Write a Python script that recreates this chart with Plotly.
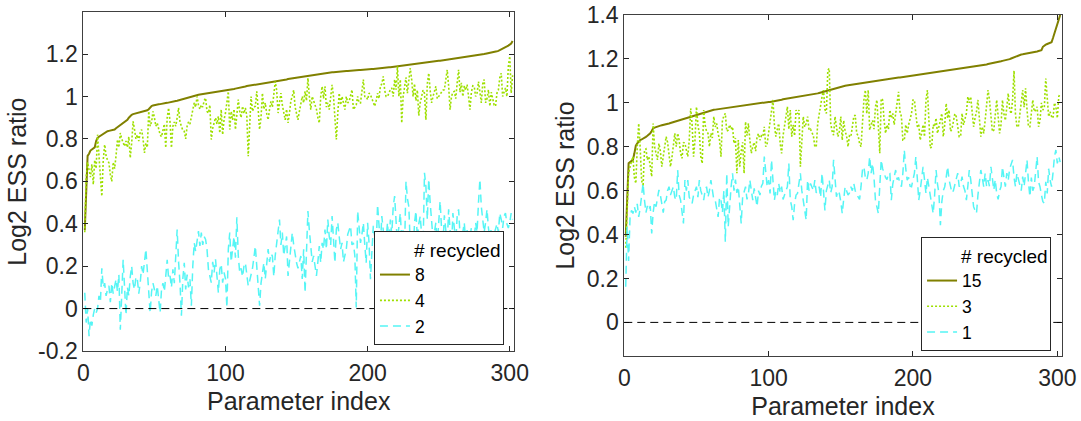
import plotly.graph_objects as go

# ---------------------------------------------------------------------------
# Log2 ESS ratio per parameter (parameters sorted by the largest setting)
# ---------------------------------------------------------------------------

# Left panel: recycled = 8, 4, 2
left_r8 = [
    0.37, 0.60, 0.72, 0.73, 0.745, 0.75, 0.755, 0.76, 0.79, 0.805,
    0.81, 0.815, 0.82, 0.825, 0.828, 0.832, 0.836, 0.838, 0.84, 0.842,
    0.843, 0.844, 0.85, 0.855, 0.86, 0.866, 0.872, 0.877, 0.882, 0.886,
    0.89, 0.90, 0.908, 0.914, 0.917, 0.919, 0.921, 0.923, 0.925, 0.926,
    0.927, 0.928, 0.93, 0.932, 0.935, 0.94, 0.948, 0.955, 0.958, 0.96,
    0.961, 0.962, 0.963, 0.964, 0.966, 0.967, 0.968, 0.969, 0.97, 0.972,
    0.973, 0.975, 0.976, 0.978, 0.979, 0.98, 0.982, 0.984, 0.986, 0.988,
    0.99, 0.993, 0.995, 0.997, 0.998, 0.999, 1.0, 1.002, 1.004, 1.006,
    1.008, 1.009, 1.01, 1.011, 1.012, 1.012, 1.013, 1.014, 1.015, 1.016,
    1.017, 1.018, 1.019, 1.021, 1.023, 1.024, 1.026, 1.027, 1.028, 1.029,
    1.03, 1.031, 1.032, 1.032, 1.034, 1.035, 1.037, 1.038, 1.04, 1.041,
    1.043, 1.044, 1.046, 1.047, 1.049, 1.05, 1.052, 1.054, 1.056, 1.057,
    1.058, 1.059, 1.06, 1.061, 1.062, 1.062, 1.063, 1.064, 1.065, 1.066,
    1.066, 1.067, 1.068, 1.068, 1.069, 1.07, 1.071, 1.072, 1.074, 1.076,
    1.077, 1.079, 1.08, 1.082, 1.083, 1.085, 1.086, 1.088, 1.089, 1.09,
    1.091, 1.092, 1.094, 1.095, 1.096, 1.097, 1.098, 1.099, 1.10, 1.101,
    1.102, 1.103, 1.104, 1.105, 1.106, 1.107, 1.108, 1.109, 1.11, 1.11,
    1.111, 1.112, 1.113, 1.113, 1.114, 1.114, 1.115, 1.115, 1.116, 1.116,
    1.117, 1.118, 1.118, 1.119, 1.12, 1.12, 1.121, 1.122, 1.122, 1.123,
    1.123, 1.124, 1.124, 1.125, 1.125, 1.126, 1.126, 1.127, 1.127, 1.128,
    1.128, 1.129, 1.13, 1.13, 1.131, 1.132, 1.132, 1.133, 1.134, 1.134,
    1.135, 1.136, 1.136, 1.137, 1.138, 1.138, 1.139, 1.14, 1.141, 1.142,
    1.142, 1.143, 1.144, 1.145, 1.146, 1.147, 1.148, 1.149, 1.15, 1.151,
    1.152, 1.153, 1.154, 1.155, 1.156, 1.157, 1.158, 1.159, 1.16, 1.161,
    1.162, 1.163, 1.164, 1.165, 1.165, 1.166, 1.167, 1.167, 1.168, 1.169,
    1.169, 1.17, 1.171, 1.171, 1.172, 1.173, 1.173, 1.174, 1.175, 1.176,
    1.177, 1.177, 1.178, 1.179, 1.18, 1.181, 1.182, 1.183, 1.184, 1.185,
    1.186, 1.187, 1.188, 1.189, 1.19, 1.191, 1.192, 1.193, 1.194, 1.196,
    1.198, 1.2, 1.202, 1.203, 1.204, 1.205, 1.206, 1.207, 1.209, 1.211,
    1.213, 1.215, 1.218, 1.221, 1.225, 1.228, 1.232, 1.236, 1.24, 1.244,
    1.25, 1.262,
]

left_r4 = [
    0.36, 0.62, 0.69, 0.66, 0.62, 0.68, 0.585, 0.70, 0.66, 0.82,
    0.74, 0.62, 0.53, 0.70, 0.773, 0.72, 0.70, 0.687, 0.63, 0.60,
    0.69, 0.66, 0.72, 0.797, 0.76, 0.828, 0.80, 0.78, 0.765, 0.79,
    0.76, 0.81, 0.71, 0.78, 0.883, 0.844, 0.80, 0.82, 0.79, 0.83,
    0.844, 0.80, 0.734, 0.78, 0.76, 0.93, 0.86, 0.88, 0.93, 0.90,
    0.86, 0.875, 0.85, 0.82, 0.81, 0.85, 0.87, 0.758, 0.90, 0.946,
    0.88, 0.758, 0.86, 0.88, 0.86, 0.90, 0.946, 0.88, 0.86, 0.84,
    0.836, 0.80, 0.86, 0.88, 0.87, 0.90, 0.93, 0.97, 0.95, 1.0,
    0.96, 0.94, 0.96, 0.95, 0.98, 0.993, 0.93, 0.922, 0.96, 0.797,
    0.85, 0.88, 0.90, 0.87, 0.907, 0.828, 0.938, 0.82, 0.891, 0.922,
    0.977, 1.024, 0.844, 0.93, 0.89, 0.94, 0.844, 0.94, 0.985, 0.93,
    0.90, 0.954, 0.92, 0.946, 0.91, 0.718, 0.85, 1.0, 0.93, 0.95,
    0.954, 1.024, 0.94, 0.844, 0.90, 1.016, 0.94, 0.97, 0.92, 0.89,
    0.94, 0.977, 0.95, 1.0, 1.07, 1.03, 0.922, 0.97, 1.016, 0.96,
    0.93, 0.89, 0.94, 0.875, 0.922, 0.98, 1.0, 1.03, 0.95, 0.92,
    0.89, 0.93, 0.96, 1.0, 0.97, 1.024, 0.98, 1.087, 1.0, 0.938,
    1.0, 0.977, 0.954, 0.94, 0.90, 0.875, 1.0, 1.048, 0.99, 1.048,
    0.95, 0.97, 0.938, 1.0, 1.055, 1.0, 0.90, 0.797, 0.92, 1.016,
    0.96, 1.0, 0.97, 0.938, 1.0, 0.97, 0.977, 1.0, 1.032, 0.938,
    0.95, 0.96, 1.0, 0.97, 0.97, 1.03, 1.08, 1.0, 1.0, 0.985,
    1.016, 1.008, 0.99, 0.97, 0.954, 0.98, 1.016, 0.99, 1.048, 1.06,
    1.095, 1.03, 1.0, 1.0, 1.02, 1.032, 1.04, 1.0, 1.08, 1.032,
    1.142, 1.0, 1.08, 0.875, 1.0, 1.056, 1.09, 1.016, 1.09, 1.134,
    1.08, 1.0, 1.06, 0.98, 1.03, 0.91, 0.97, 1.0, 1.03, 1.016,
    0.89, 1.06, 1.11, 1.03, 0.97, 1.0, 1.02, 1.048, 0.99, 1.0,
    1.01, 1.02, 1.03, 1.032, 1.08, 1.126, 1.05, 0.938, 1.0, 1.02,
    1.024, 0.99, 1.064, 1.126, 1.02, 1.064, 1.0, 1.05, 1.03, 1.056,
    1.0, 0.938, 1.02, 1.05, 1.048, 1.0, 1.016, 1.07, 1.02, 0.97,
    1.06, 1.08, 0.97, 0.99, 1.032, 0.954, 1.02, 0.98, 0.96, 0.954,
    1.016, 1.03, 1.09, 1.11, 1.0, 1.02, 1.04, 1.0, 1.142, 1.19,
    1.016, 1.10,
]

left_r2 = [
    0.075, -0.066, 0.0, -0.13, -0.05, -0.08, -0.03, 0.0, -0.02, 0.0,
    0.06, 0.03, 0.19, 0.10, 0.12, 0.06, 0.09, 0.107, 0.03, 0.12,
    0.07, 0.10, 0.138, 0.08, 0.16, -0.10, 0.12, 0.23, 0.10, -0.03,
    0.10, 0.06, 0.15, 0.20, 0.12, 0.09, 0.15, 0.138, 0.07, 0.12,
    0.20, 0.16, 0.22, 0.28, 0.18, 0.06, -0.02, 0.08, 0.12, 0.09,
    0.06, 0.107, 0.04, -0.02, 0.09, 0.12, 0.08, 0.18, 0.23, 0.14,
    0.154, 0.10, 0.185, 0.12, 0.25, 0.373, 0.22, 0.12, -0.034, 0.14,
    0.216, 0.09, 0.16, 0.10, 0.138, 0.013, 0.20, 0.31, 0.27, 0.33,
    0.365, 0.295, 0.358, 0.30, 0.34, 0.326, 0.28, 0.185, 0.15, 0.122,
    0.22, 0.17, 0.232, 0.14, 0.075, 0.185, 0.21, 0.122, 0.17, 0.14,
    0.005, 0.28, 0.358, 0.22, 0.30, 0.34, 0.24, 0.43, 0.25, 0.17,
    0.19, 0.15, 0.20, 0.216, 0.16, 0.107, 0.13, 0.16, 0.19, 0.24,
    0.295, 0.20, 0.10, 0.013, 0.12, 0.18, 0.216, 0.14, 0.20, 0.28,
    0.22, 0.26, 0.248, 0.15, 0.25, 0.31, 0.34, 0.42, 0.30, 0.358,
    0.25, 0.30, 0.34, 0.154, 0.22, 0.28, 0.358, 0.30, 0.25, 0.216,
    0.19, 0.22, 0.248, 0.14, 0.28, 0.075, 0.25, 0.46, 0.37, 0.31,
    0.22, 0.248, 0.20, 0.154, 0.22, 0.295, 0.216, 0.31, 0.28, 0.373,
    0.28, 0.42, 0.34, 0.30, 0.436, 0.31, 0.216, 0.373, 0.405, 0.34,
    0.28, 0.31, 0.22, 0.25, 0.28, 0.35, 0.37, 0.39, 0.30, 0.31,
    0.25, 0.005, 0.46, 0.37, 0.31, 0.35, 0.405, 0.30, 0.216, 0.405,
    0.31, 0.138, 0.30, 0.39, 0.34, 0.28, 0.49, 0.40, 0.30, 0.436,
    0.37, 0.25, 0.33, 0.405, 0.30, 0.42, 0.35, 0.48, 0.53, 0.40,
    0.30, 0.39, 0.45, 0.32, 0.38, 0.28, 0.60, 0.52, 0.48, 0.30,
    0.36, 0.25, 0.405, 0.46, 0.33, 0.40, 0.436, 0.35, 0.28, 0.64,
    0.577, 0.42, 0.61, 0.50, 0.40, 0.33, 0.36, 0.405, 0.30, 0.44,
    0.507, 0.38, 0.30, 0.44, 0.36, 0.30, 0.468, 0.35, 0.28, 0.45,
    0.38, 0.31, 0.436, 0.468, 0.35, 0.29, 0.36, 0.405, 0.32, 0.37,
    0.30, 0.34, 0.38, 0.29, 0.33, 0.405, 0.36, 0.50, 0.61, 0.48,
    0.42, 0.36, 0.405, 0.468, 0.38, 0.33, 0.38, 0.30, 0.35, 0.373,
    0.40, 0.36, 0.45, 0.42, 0.38, 0.436, 0.45, 0.40, 0.38, 0.405,
    0.45, 0.42,
]

# Right panel: recycled = 15, 3, 1
right_r15 = [
    0.39, 0.60, 0.725, 0.73, 0.735, 0.74, 0.77, 0.805, 0.815, 0.825,
    0.83, 0.833, 0.836, 0.84, 0.845, 0.85, 0.855, 0.861, 0.872, 0.884,
    0.887, 0.89, 0.892, 0.894, 0.896, 0.898, 0.899, 0.901, 0.902, 0.904,
    0.906, 0.908, 0.91, 0.912, 0.915, 0.917, 0.919, 0.921, 0.923, 0.925,
    0.927, 0.929, 0.931, 0.934, 0.937, 0.939, 0.941, 0.943, 0.945, 0.947,
    0.949, 0.951, 0.952, 0.954, 0.956, 0.958, 0.96, 0.962, 0.963, 0.965,
    0.966, 0.968, 0.969, 0.97, 0.972, 0.973, 0.974, 0.975, 0.976, 0.977,
    0.978, 0.979, 0.98, 0.98, 0.981, 0.982, 0.983, 0.984, 0.985, 0.986,
    0.987, 0.988, 0.989, 0.99, 0.991, 0.992, 0.993, 0.994, 0.995, 0.996,
    0.997, 0.997, 0.998, 0.999, 1.0, 1.001, 1.002, 1.002, 1.003, 1.004,
    1.004, 1.005, 1.005, 1.006, 1.008, 1.009, 1.011, 1.013, 1.014, 1.016,
    1.017, 1.018, 1.019, 1.02, 1.021, 1.022, 1.024, 1.025, 1.026, 1.027,
    1.028, 1.029, 1.031, 1.032, 1.033, 1.034, 1.035, 1.036, 1.037, 1.038,
    1.039, 1.04, 1.041, 1.043, 1.045, 1.047, 1.049, 1.051, 1.053, 1.055,
    1.057, 1.059, 1.061, 1.063, 1.065, 1.066, 1.068, 1.07, 1.072, 1.073,
    1.075, 1.077, 1.078, 1.079, 1.08, 1.081, 1.082, 1.083, 1.084, 1.085,
    1.086, 1.087, 1.088, 1.089, 1.09, 1.092, 1.094, 1.096, 1.097, 1.098,
    1.099, 1.1, 1.1, 1.101, 1.102, 1.103, 1.104, 1.105, 1.105, 1.106,
    1.107, 1.108, 1.108, 1.109, 1.11, 1.111, 1.112, 1.113, 1.114, 1.115,
    1.115, 1.116, 1.117, 1.117, 1.118, 1.119, 1.119, 1.12, 1.121, 1.121,
    1.122, 1.123, 1.124, 1.125, 1.126, 1.127, 1.128, 1.129, 1.13, 1.131,
    1.132, 1.133, 1.134, 1.135, 1.136, 1.137, 1.138, 1.139, 1.14, 1.141,
    1.142, 1.143, 1.144, 1.145, 1.146, 1.147, 1.148, 1.149, 1.15, 1.151,
    1.152, 1.153, 1.154, 1.155, 1.156, 1.157, 1.158, 1.159, 1.16, 1.161,
    1.162, 1.163, 1.164, 1.165, 1.166, 1.168, 1.169, 1.171, 1.172, 1.174,
    1.175, 1.177, 1.178, 1.179, 1.18, 1.182, 1.183, 1.185, 1.186, 1.188,
    1.189, 1.191, 1.192, 1.194, 1.196, 1.197, 1.199, 1.202, 1.205, 1.208,
    1.211, 1.214, 1.217, 1.219, 1.22, 1.221, 1.222, 1.223, 1.224, 1.225,
    1.226, 1.228, 1.229, 1.231, 1.232, 1.234, 1.236, 1.237, 1.24, 1.255,
    1.262, 1.265, 1.268, 1.27, 1.272, 1.276, 1.295, 1.315, 1.335, 1.355,
    1.378, 1.40,
]

right_r3 = [
    0.34, 0.557, 0.68, 0.709, 0.74, 0.755, 0.66, 0.633, 0.80, 0.906,
    0.80, 0.648, 0.618, 0.785, 0.79, 0.74, 0.755, 0.70, 0.664, 0.906,
    0.80, 0.77, 0.74, 0.815, 0.78, 0.709, 0.76, 0.80, 0.846, 0.82,
    0.76, 0.709, 0.75, 0.80, 0.861, 0.80, 0.861, 0.83, 0.77, 0.747,
    0.82, 0.815, 0.78, 0.755, 0.83, 0.975, 0.90, 0.755, 0.83, 0.982,
    0.90, 0.861, 0.755, 0.724, 0.967, 0.90, 0.87, 0.861, 0.80, 0.861,
    0.84, 0.937, 0.89, 0.906, 0.86, 0.83, 0.755, 0.92, 0.94, 0.952,
    0.87, 0.876, 0.90, 0.88, 0.891, 0.815, 0.84, 0.679, 0.83, 0.709,
    0.78, 0.82, 0.679, 0.914, 0.85, 0.906, 0.83, 0.77, 0.80, 0.82,
    0.78, 0.846, 0.86, 0.83, 0.85, 0.846, 0.891, 0.80, 0.815, 0.861,
    0.92, 0.95, 1.013, 0.90, 0.846, 0.88, 0.906, 0.815, 0.77, 0.85,
    0.90, 0.937, 0.982, 0.88, 0.967, 0.846, 0.90, 0.85, 0.967, 0.95,
    0.967, 0.709, 0.85, 0.937, 0.89, 0.906, 0.937, 0.876, 0.88, 0.861,
    0.85, 0.80, 0.80, 0.906, 0.95, 0.997, 1.028, 1.058, 0.97, 0.952,
    1.149, 1.157, 0.906, 0.87, 0.853, 0.937, 0.90, 0.846, 0.87, 0.937,
    0.83, 0.92, 0.87, 0.85, 0.80, 0.85, 0.846, 0.90, 0.937, 0.944,
    0.861, 0.85, 0.815, 0.80, 0.92, 1.013, 1.058, 0.95, 1.058, 0.876,
    0.90, 0.92, 0.88, 0.982, 1.013, 0.861, 0.77, 1.02, 1.013, 0.92,
    0.861, 0.90, 0.88, 0.967, 0.93, 0.952, 0.90, 0.95, 1.0, 1.05,
    0.96, 0.937, 0.83, 0.83, 0.90, 0.861, 0.90, 0.93, 0.952, 1.013,
    1.013, 0.95, 0.891, 0.90, 0.83, 0.861, 0.90, 0.846, 1.013, 1.058,
    0.95, 0.793, 0.80, 0.90, 0.891, 0.93, 0.861, 0.89, 0.922, 0.952,
    0.846, 0.90, 0.997, 0.93, 0.967, 0.87, 0.88, 0.92, 0.95, 0.937,
    0.89, 0.846, 0.846, 0.952, 0.90, 0.93, 0.952, 1.028, 1.0, 1.028,
    0.95, 0.891, 0.93, 0.96, 1.013, 0.92, 0.846, 0.891, 0.861, 0.92,
    0.982, 1.058, 1.013, 0.93, 0.869, 0.876, 0.95, 1.013, 0.94, 0.861,
    0.90, 1.013, 0.95, 0.92, 0.98, 1.043, 0.97, 0.95, 1.013, 1.146,
    0.95, 0.891, 0.891, 0.95, 1.0, 1.058, 0.98, 1.066, 0.97, 0.891,
    0.891, 0.95, 1.013, 0.96, 0.967, 0.982, 0.891, 0.92, 1.0, 0.967,
    0.98, 1.111, 1.0, 0.937, 0.96, 0.937, 0.93, 1.0, 0.982, 0.93,
    1.028, 1.043,
]

right_r1 = [
    0.162, 0.436, 0.28, 0.48, 0.51, 0.496, 0.527, 0.50, 0.54, 0.48,
    0.52, 0.587, 0.633, 0.557, 0.50, 0.53, 0.51, 0.53, 0.405, 0.50,
    0.55, 0.527, 0.56, 0.603, 0.58, 0.542, 0.50, 0.55, 0.557, 0.60,
    0.618, 0.58, 0.60, 0.618, 0.57, 0.557, 0.694, 0.58, 0.557, 0.50,
    0.451, 0.648, 0.60, 0.648, 0.57, 0.557, 0.542, 0.58, 0.60, 0.618,
    0.57, 0.648, 0.60, 0.58, 0.557, 0.60, 0.618, 0.57, 0.60, 0.648,
    0.59, 0.56, 0.557, 0.52, 0.48, 0.57, 0.557, 0.50, 0.60, 0.367,
    0.679, 0.436, 0.55, 0.618, 0.679, 0.60, 0.65, 0.59, 0.618, 0.52,
    0.451, 0.57, 0.60, 0.618, 0.56, 0.587, 0.648, 0.59, 0.557, 0.61,
    0.572, 0.527, 0.60, 0.58, 0.62, 0.633, 0.755, 0.664, 0.618, 0.648,
    0.587, 0.74, 0.62, 0.557, 0.60, 0.58, 0.633, 0.59, 0.618, 0.56,
    0.58, 0.60, 0.618, 0.724, 0.557, 0.527, 0.466, 0.54, 0.58, 0.587,
    0.63, 0.679, 0.60, 0.557, 0.50, 0.466, 0.648, 0.60, 0.633, 0.62,
    0.60, 0.648, 0.59, 0.60, 0.618, 0.57, 0.679, 0.60, 0.51, 0.60,
    0.62, 0.648, 0.59, 0.618, 0.74, 0.66, 0.572, 0.60, 0.587, 0.55,
    0.496, 0.56, 0.618, 0.60, 0.58, 0.59, 0.618, 0.60, 0.633, 0.60,
    0.58, 0.572, 0.56, 0.618, 0.694, 0.709, 0.66, 0.648, 0.68, 0.755,
    0.68, 0.724, 0.66, 0.557, 0.52, 0.496, 0.62, 0.74, 0.70, 0.679,
    0.66, 0.65, 0.68, 0.679, 0.557, 0.63, 0.66, 0.694, 0.65, 0.66,
    0.63, 0.618, 0.68, 0.785, 0.70, 0.648, 0.66, 0.62, 0.618, 0.648,
    0.68, 0.755, 0.65, 0.557, 0.60, 0.65, 0.709, 0.65, 0.587, 0.66,
    0.618, 0.56, 0.52, 0.496, 0.58, 0.694, 0.63, 0.587, 0.443, 0.55,
    0.60, 0.618, 0.66, 0.709, 0.65, 0.618, 0.59, 0.60, 0.63, 0.648,
    0.68, 0.618, 0.63, 0.664, 0.62, 0.60, 0.557, 0.62, 0.694, 0.65,
    0.587, 0.527, 0.51, 0.496, 0.58, 0.648, 0.694, 0.66, 0.618, 0.679,
    0.62, 0.648, 0.62, 0.709, 0.65, 0.603, 0.65, 0.587, 0.56, 0.60,
    0.618, 0.709, 0.66, 0.618, 0.68, 0.648, 0.70, 0.72, 0.74, 0.66,
    0.618, 0.68, 0.648, 0.62, 0.60, 0.664, 0.62, 0.679, 0.74, 0.64,
    0.572, 0.66, 0.60, 0.618, 0.68, 0.755, 0.64, 0.618, 0.58, 0.55,
    0.542, 0.64, 0.587, 0.70, 0.648, 0.618, 0.68, 0.755, 0.785, 0.724,
    0.755, 0.73,
]

left_names = ["8", "4", "2"]
right_names = ["15", "3", "1"]

x_ticks = [0, 100, 200, 300]
left_y_ticks = [-0.2, 0, 0.2, 0.4, 0.6, 0.8, 1.0, 1.2]
left_y_labels = ["-0.2", "0", "0.2", "0.4", "0.6", "0.8", "1", "1.2"]
right_y_ticks = [0, 0.2, 0.4, 0.6, 0.8, 1.0, 1.2, 1.4]
right_y_labels = ["0", "0.2", "0.4", "0.6", "0.8", "1", "1.2", "1.4"]

# ---------------------------------------------------------------------------
FONT = "Liberation Sans, Arial, Helvetica, sans-serif"
TXT = "#262626"
AX = "#404040"
OLIVE = "#808000"
LIME = "#9ee000"
CYAN = "#55f5f5"

styles = [
    dict(color=OLIVE, width=2, dash="solid"),
    dict(color=LIME, width=1.6, dash="2px,2px"),
    dict(color=CYAN, width=1.5, dash="8px,5px"),
]

fig = go.Figure()


def add_panel(series, names, xa, ya, legend):
    for vals, name, st in zip(series, names, styles):
        fig.add_trace(go.Scatter(
            x=list(range(1, len(vals) + 1)), y=vals, mode="lines",
            name=name, line=st, legend=legend, xaxis=xa, yaxis=ya,
            hoverinfo="skip",
        ))


add_panel([left_r8, left_r4, left_r2], left_names, "x", "y", "legend")
add_panel([right_r15, right_r3, right_r1], right_names, "x2", "y2", "legend2")


def xaxis(domain, anchor):
    return dict(
        domain=domain, anchor=anchor, range=[0, 303], automargin=False,
        tickmode="array", tickvals=x_ticks,
        ticks="inside", ticklen=5, tickwidth=1, tickcolor=TXT,
        ticklabelstandoff=1,
        showline=True, linecolor=AX, linewidth=1, mirror="ticks",
        showgrid=False, zeroline=False,
        tickfont=dict(size=23, color=TXT, family=FONT),
        title=dict(text="Parameter index", font=dict(size=25, color=TXT, family=FONT), standoff=7),
    )


def yaxis(domain, anchor, rng, vals, labels):
    return dict(
        domain=domain, anchor=anchor, range=rng, automargin=False,
        tickmode="array", tickvals=vals, ticktext=labels,
        ticks="inside", ticklen=5, tickwidth=1, tickcolor=TXT,
        showline=True, linecolor=AX, linewidth=1, mirror="ticks",
        showgrid=False, zeroline=False,
        tickfont=dict(size=23, color=TXT, family=FONT),
        title=dict(text="Log2 ESS ratio", font=dict(size=25, color=TXT, family=FONT), standoff=4),
    )


def legend_box(x, y):
    return dict(
        x=x, y=y, xanchor="right", yanchor="top", xref="paper", yref="paper",
        bgcolor="white", bordercolor=TXT, borderwidth=1,
        font=dict(size=17.5, color="black", family=FONT),
        title=dict(text="\u00a0" * 7 + "# recycled",
                   font=dict(size=19, color="black", family=FONT)),
        tracegroupgap=0,
    )


zero_line = dict(color="black", width=1, dash="8px,5px")

fig.update_layout(
    width=1081, height=421,
    margin=dict(l=0, r=0, t=0, b=0, autoexpand=False),
    paper_bgcolor="white", plot_bgcolor="white",
    font=dict(family=FONT, color=TXT),
    showlegend=True,
    xaxis=xaxis([0.0771, 0.4755], "y"),
    yaxis=yaxis([0.1663, 0.9708], "x", [-0.2, 1.397], left_y_ticks, left_y_labels),
    xaxis2=xaxis([0.5775, 0.9821], "y2"),
    yaxis2=yaxis([0.1544, 0.9644], "x2", [-0.153, 1.4], right_y_ticks, right_y_labels),
    legend=legend_box(0.4662, 0.4513),
    legend2=legend_box(0.9723, 0.4371),
    shapes=[
        dict(type="line", xref="x domain", yref="y", x0=0, x1=1, y0=0, y1=0,
             line=zero_line, layer="above"),
        dict(type="line", xref="x2 domain", yref="y2", x0=0, x1=1, y0=0, y1=0,
             line=zero_line, layer="above"),
    ],
)

fig.write_html("out.html")
